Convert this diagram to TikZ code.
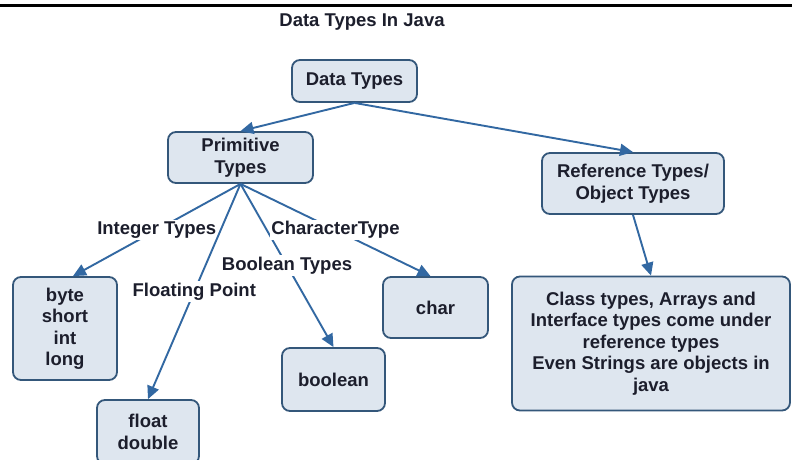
\documentclass[tikz,border=0pt]{standalone}
\usepackage{fontspec}
\setmainfont{Liberation Sans}
\usetikzlibrary{arrows.meta,calc}
\definecolor{boxfill}{HTML}{DEE6EF}
\definecolor{boxline}{HTML}{34577A}
\definecolor{arrowc}{HTML}{3268A2}
\definecolor{txt}{HTML}{1C1E2C}
\begin{document}
\begin{tikzpicture}[x=1pt,y=-1pt,
  every node/.style={font=\bfseries\fontsize{18.5}{21.5}\selectfont, text=txt},
  tbox/.style={draw=boxline, line width=1.8pt, fill=boxfill, rounded corners=8pt,
    align=center, inner sep=0pt},
  conn/.style={draw=arrowc, line width=1.9pt, -{Triangle[length=13pt,width=12pt]}},
  elab/.style={fill=white, inner sep=1.5pt, midway}]
\useasboundingbox (0,0) rectangle (792,459);
\fill[white] (0,0) rectangle (792,459);
\coordinate (tl) at (0,5.5);
\coordinate (tr) at (792,5.5);
\draw[line width=3pt, black] (tl) -- (tr);
\node (title) at (362,22) {Data Types In Java};
\node[tbox, minimum width=125pt, minimum height=42pt] (DT) at (354.5,81) {Data Types};
\node[tbox, minimum width=145pt, minimum height=51pt] (PT) at (240.5,157.5) {Primitive\\Types};
\node[tbox, minimum width=182pt, minimum height=61pt] (RT) at (633,183.5) {Reference Types/\\Object Types};
\node[tbox, minimum width=104pt, minimum height=103pt] (BY) at (65,328.5) {byte\\short\\int\\long};
\node[tbox, minimum width=102pt, minimum height=64pt] (FD) at (148,432) {float\\double};
\node[tbox, minimum width=103pt, minimum height=63pt] (BO) at (333.5,379.5) {boolean};
\node[tbox, minimum width=105pt, minimum height=61pt] (CH) at (435.5,307.5) {char};
\node[tbox, minimum width=278pt, minimum height=134pt] (CL) at (651,343.5) {Class types, Arrays and\\Interface types come under\\reference types\\Even Strings are objects in\\java};
\draw[conn] (DT.south) -- (PT.north);
\draw[conn] (DT.south) -- (RT.north);
\draw[conn] (RT.south) -- (CL.north);
\draw[conn] (PT.south) -- ($(BY.north)+(8,0)$) node[elab] {Integer Types};
\draw[conn] (PT.south) -- (FD.north) node[elab] {Floating Point};
\draw[conn] (PT.south) -- (BO.north) node[elab] {Boolean Types};
\draw[conn] (PT.south) -- ($(CH.north)+(-5,0)$) node[elab] {CharacterType};
\end{tikzpicture}
\end{document}
